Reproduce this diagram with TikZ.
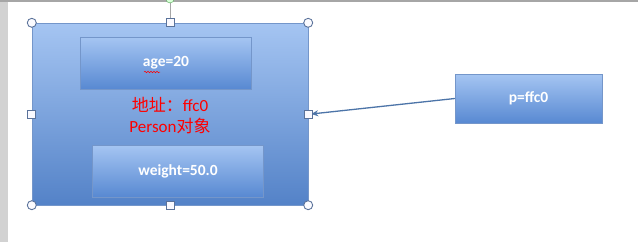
\documentclass[tikz,border=0pt]{standalone}
\usepackage{fontspec}
\setmainfont{Carlito}
\newfontfamily\cjk{Noto Sans CJK SC}
\usetikzlibrary{arrows.meta,decorations.pathmorphing}

\definecolor{boxtop}{HTML}{A5C5F2}
\definecolor{boxbot}{HTML}{5889D2}
\definecolor{boxline}{HTML}{7496CA}
\definecolor{handle}{HTML}{5A729A}
\definecolor{arrowblue}{HTML}{4C74A8}

\tikzset{
  field/.style={rectangle, inner sep=0pt, minimum width=171pt, minimum height=52pt,
    top color=boxtop, bottom color=boxbot, draw=boxline, text=white,
    font=\fontsize{15.5}{18}\selectfont\bfseries},
  corner/.style={circle, draw=handle, line width=0.9pt, fill=white!85!blue!10, inner sep=0pt, minimum size=9pt},
  side/.style={rectangle, draw=handle, line width=0.9pt, fill=white!80!blue!12, inner sep=0pt, minimum size=8pt}
}

\begin{document}
\begin{tikzpicture}[x=1pt,y=-1pt]
  \useasboundingbox (0,0) rectangle (638,242);
  \fill[white] (0,0) rectangle (638,242);
  \fill[gray!35] (0,0) rectangle (8,242);
  \fill[gray!70] (0,0) rectangle (638,2);

  \node[rectangle, inner sep=0pt, minimum width=276pt, minimum height=182pt,
    top color=boxtop, bottom color=boxbot!95!black, draw=boxline] (obj) at (170,114) {};

  \node[field] (age) at (166,63) {age=20};
  \draw[red, line width=0.5pt, decorate, decoration={snake, amplitude=0.8pt, segment length=3pt}]
    ([xshift=-22pt,yshift=-9pt]age.center) -- ([xshift=-6pt,yshift=-9pt]age.center);
  \node[field] (weight) at (178,171) {weight=50.0};
  \node[text=red, align=center, font=\fontsize{17}{21}\selectfont] (addr) at (170,116)
    {{\cjk 地址：}ffc0\\Person{\cjk 对象}};

  \node[field, minimum width=147pt, minimum height=49pt] (p) at (528.5,98.5) {p=ffc0};
  \draw[arrowblue, line width=1.3pt, -{Stealth[length=7pt,width=6pt]}] (p.west) -- ([xshift=3pt]obj.east);

  % selection handles
  \draw[gray!70] (obj.north) -- (170,3);
  \node[circle, draw=green!50!black!70, fill=green!15, inner sep=0pt, minimum size=8pt] (rot) at (170,-1) {};
  \foreach \a in {north west,north east,south west,south east}
    \node[corner] at (obj.\a) {};
  \foreach \a in {north,south,west,east}
    \node[side] at (obj.\a) {};
\end{tikzpicture}
\end{document}
